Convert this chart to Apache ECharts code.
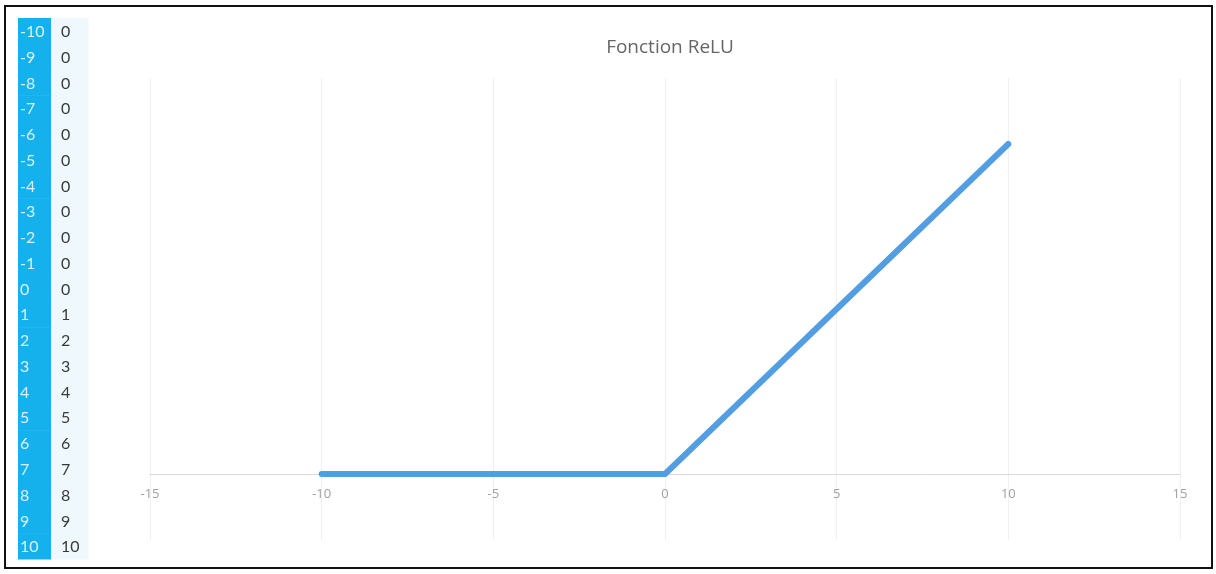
<!DOCTYPE html>
<html>
<head>
<meta charset="utf-8">
<script src="https://cdn.jsdelivr.net/npm/echarts@6/dist/echarts.min.js"></script>
<style>
  html, body { margin: 0; padding: 0; background: #fff; }
  #chart { width: 1216px; height: 574px; }
</style>
</head>
<body>
<div id="chart"></div>
<script>
// Input values and ReLU outputs
const xValues = [-10, -9, -8, -7, -6, -5, -4, -3, -2, -1, 0, 1, 2, 3, 4, 5, 6, 7, 8, 9, 10];
const yValues = [0, 0, 0, 0, 0, 0, 0, 0, 0, 0, 0, 1, 2, 3, 4, 5, 6, 7, 8, 9, 10];
const tableColumns = ['x', 'y'];
const rowLabels = xValues.map(String);
const xTicks = { min: -15, max: 15, step: 5 };

const linePoints = xValues.map((x, i) => [x, yValues[i]]);

// Cells of the side table: [column, row, text]
const tableCells = [];
xValues.forEach((x, i) => {
  tableCells.push([0, i, String(x)]);
  tableCells.push([1, i, String(yValues[i])]);
});

const chart = echarts.init(document.getElementById('chart'), null, { renderer: 'canvas' });

chart.setOption({
  animation: false,
  backgroundColor: '#ffffff',
  title: {
    text: 'Fonction ReLU',
    left: 665,
    top: 33,
    textAlign: 'center',
    textStyle: { fontFamily: 'Open Sans', fontSize: 19, fontWeight: 'normal', color: '#666666' }
  },
  grid: [
    // plot area: y from 0 up, axis line along y = 0
    { left: 150, right: 36, top: 78, bottom: 100 },
    // side table
    { left: 18, top: 18, width: 70, height: 541 },
    // vertical gridlines, running below the axis as well
    { left: 150, right: 36, top: 78, bottom: 34 }
  ],
  xAxis: [
    {
      gridIndex: 0,
      type: 'value',
      min: xTicks.min,
      max: xTicks.max,
      interval: xTicks.step,
      axisLine: { show: true, lineStyle: { color: '#d9d9d9', width: 1 } },
      axisTick: { show: false },
      axisLabel: { color: '#a0a0a0', fontFamily: 'Open Sans', fontSize: 13, margin: 14 },
      splitLine: { show: false },
      z: 3
    },
    {
      gridIndex: 1,
      type: 'category',
      data: tableColumns,
      show: false
    },
    {
      gridIndex: 2,
      type: 'value',
      min: xTicks.min,
      max: xTicks.max,
      interval: xTicks.step,
      axisLine: { show: false },
      axisTick: { show: false },
      axisLabel: { show: false },
      splitLine: { show: true, lineStyle: { color: '#f0f0f0', width: 1 } }
    }
  ],
  yAxis: [
    {
      gridIndex: 0,
      type: 'value',
      min: 0,
      max: 12,
      show: false,
      splitLine: { show: false }
    },
    {
      gridIndex: 1,
      type: 'category',
      data: rowLabels,
      inverse: true,
      show: false
    },
    {
      gridIndex: 2,
      type: 'value',
      min: 0,
      max: 1,
      show: false,
      splitLine: { show: false }
    }
  ],
  series: [
    {
      type: 'line',
      xAxisIndex: 0,
      yAxisIndex: 0,
      data: linePoints,
      showSymbol: false,
      symbol: 'none',
      z: 4,
      lineStyle: { color: '#539ee2', width: 6, cap: 'round', join: 'round' }
    },
    {
      type: 'custom',
      xAxisIndex: 1,
      yAxisIndex: 1,
      data: tableCells,
      renderItem: function (params, api) {
        const col = api.value(0);
        const center = api.coord([col, api.value(1)]);
        const size = api.size([1, 1]);
        const isInput = col === 0;
        // input column is a little narrower than the output column
        const x0 = isInput ? center[0] - size[0] / 2 : center[0] - size[0] / 2 - 2;
        const w = isInput ? size[0] - 2 : size[0] + 2;
        const y0 = center[1] - size[1] / 2;
        return {
          type: 'group',
          children: [
            {
              type: 'rect',
              shape: { x: x0, y: y0, width: w + 0.5, height: size[1] + 0.5 },
              style: { fill: isInput ? '#14b1ed' : '#eef8fd' }
            },
            {
              type: 'text',
              style: {
                x: x0 + (isInput ? 2 : 10),
                y: center[1] + 1,
                text: tableCells[params.dataIndex][2],
                fill: isInput ? '#d9f2fc' : '#3a3a3a',
                font: '16px Lato',
                textVerticalAlign: 'middle',
                textAlign: 'left'
              }
            }
          ]
        };
      }
    }
  ],
  graphic: [
    {
      type: 'rect',
      shape: { x: 5, y: 6, width: 1207, height: 562 },
      style: { fill: 'none', stroke: '#111111', lineWidth: 2 },
      silent: true
    }
  ]
});
</script>
</body>
</html>
